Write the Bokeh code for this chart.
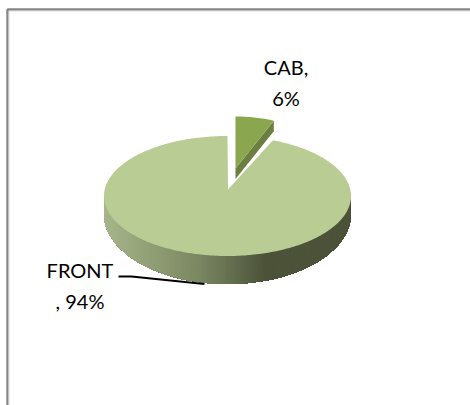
import numpy as np
from bokeh.plotting import figure
from bokeh.models import Range1d
from bokeh.core.properties import value
from bokeh.embed import file_html
from bokeh.resources import INLINE

categories = ["CAB", "FRONT"]
shares = [6, 94]
label_lines = [["CAB,", "6%"], ["FRONT", ", 94%"]]

W, H = 470, 405
p = figure(width=W, height=H, output_backend="svg", toolbar_location=None,
           x_range=Range1d(0, W), y_range=Range1d(H, 0), min_border=0,
           x_axis_location=None, y_axis_location=None)
p.grid.visible = False
p.outline_line_color = None
p.background_fill_color = "white"
p.border_fill_color = "white"
p.styles = {"position": "absolute", "left": "0px", "top": "0px"}

# frame, open on the right and the bottom
p.line([7, 7, W], [H, 9, 9], line_color="#868686", line_width=2.4)
p.line([8.5, 8.5, W], [H, 10.5, 10.5], line_color="#d9d9d9", line_width=1)

split = np.radians(360 * shares[0] / sum(shares))
CX, CY, A, B = 227.0, 195.5, 123.5, 60.0
APEX = (227.5, 189.0)

# exploded small slice
SX, SY, SA, SB = 235.0, 175.0, 104.0, 59.0
t = np.linspace(0, split, 20)
sx, sy = SX + SA * np.sin(t), SY - SB * np.cos(t)
DROP = 10.5
p.patch([sx[-1], SX, SX, sx[-1]], [sy[-1], SY - 7, SY - 7 + DROP, sy[-1] + DROP],
        fill_color="#6b8040", line_color=None)
p.patch(list(sx) + [SX], list(sy) + [SY - 7], fill_color="#8aa64f", line_color=None)

# rim of the big slice: strips, each running on to the rim's left end
# so that later, shorter strips paint over it and leave no seams
stops_x = [104, 150, 200, 235, 265, 351]
stops_c = [(168, 182, 141), (146, 160, 118), (122, 135, 98), (98, 108, 78), (76, 83, 57), (76, 83, 57)]


def rim_bottom(th):
    return CY - B * np.cos(th) + 18 - 10 * np.cos(th)


th = np.radians(np.linspace(90, 270, 361))
rim_x = CX + A * np.sin(th)
rim_top = CY - B * np.cos(th)
rim_low = rim_bottom(th)
for i in range(len(th) - 1):
    xm = (rim_x[i] + rim_x[i + 1]) / 2
    col = "#%02x%02x%02x" % tuple(int(np.interp(xm, stops_x, [c[k] for c in stops_c])) for k in range(3))
    p.patch(list(rim_x[i:]) + list(rim_x[i:][::-1]), list(rim_top[i:]) + list(rim_low[i:][::-1]),
            fill_color=col, line_color=None)

# top of the big slice
t = np.linspace(split, 2 * np.pi, 300)
p.patch(list(CX + A * np.sin(t)) + [APEX[0]], list(CY - B * np.cos(t)) + [APEX[1]],
        fill_color="#b8cc94", line_color=None)

# leader line
p.line([118, 131, 204], [276, 276, 283.5], line_color="black", line_width=2)

# labels
font = value("Lato")
for txt, xc, yc in zip(label_lines[0] + label_lines[1], [285.5, 285.5, 79.5, 79.5], [66.5, 97.5, 269, 300]):
    p.text([xc], [yc], text=[txt], text_font=font, text_font_size="20px", text_color="black",
           text_align="center", text_baseline="middle")

open("out.html", "w").write(file_html(p, INLINE))
